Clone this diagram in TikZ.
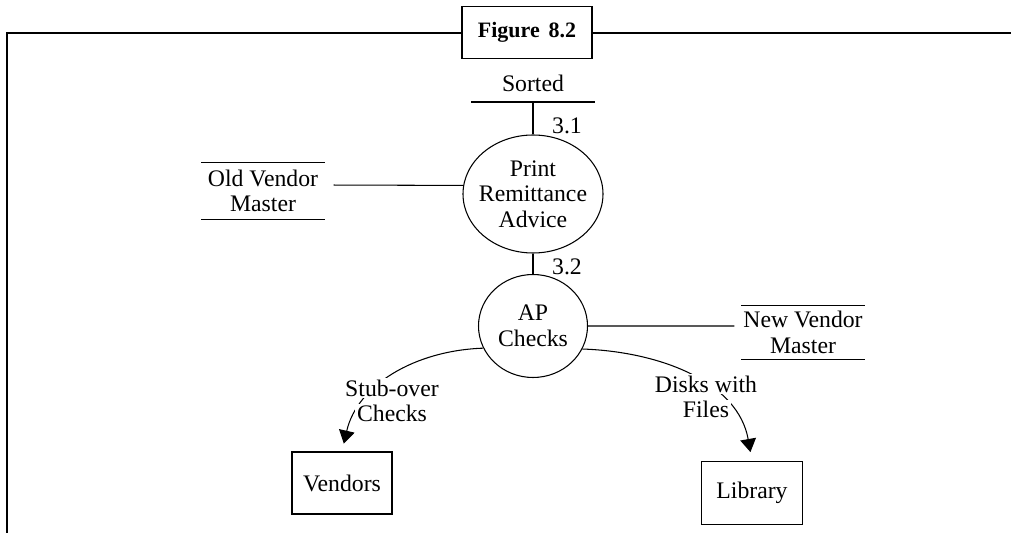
\documentclass[tikz,border=0pt]{standalone}
\usepackage{fontspec}
\setmainfont{Liberation Serif}
\usepackage{tikz}
\usetikzlibrary{arrows.meta, positioning, shapes.geometric}

\newcommand{\wb}[1]{{\setlength{\fboxsep}{1pt}\colorbox{white}{#1}}}

\begin{document}
\begin{tikzpicture}[line width=0.6pt, node distance=2.64cm,
	every node/.style={font=\fontsize{13.5}{14.5}\selectfont, align=center},
	process/.style={draw, ellipse, inner sep=0pt},
	store/.style={minimum width=2.44cm, minimum height=1.12cm, inner sep=0pt,
		append after command={(\tikzlastnode.north west) edge (\tikzlastnode.north east)
			(\tikzlastnode.south west) edge (\tikzlastnode.south east)}},
	entity/.style={draw, minimum width=2cm, minimum height=1.24cm},
	flow/.style={-{Triangle[width=9pt,length=7.5pt]}}]
			\useasboundingbox (0,0) rectangle (20.22,-10.66);
			
			% frame with title
			\draw[line width=1.4pt] (0.14,-10.66) -- (0.14,-0.66) -- (20.22,-0.66);
			\node[draw, line width=1.1pt, fill=white, minimum width=2.6cm, minimum height=1.04cm,
				font=\fontsize{12.5}{13}\selectfont\bfseries] (fig) at (10.54,-0.65) {Figure\hspace{0.4em}8.2};
			
			\node[process, inner xsep=-0.2cm, minimum width=2.8cm, minimum height=2.36cm] (print) at (10.66,-3.88) {Print\\Remittance\\Advice};
			\node[process, minimum width=2.18cm, minimum height=2.06cm] (ap) [below of=print] {AP\\Checks};
			\node[minimum width=2.44cm, minimum height=0.72cm, inner sep=0pt, anchor=south] (sorted) at (10.66,-2.04) {Sorted};
			\node[store] (old) at (5.26,-3.82) {Old Vendor\\Master};
			\node[store, minimum height=1.06cm] (new) at (16.06,-6.65) {New Vendor\\Master};
			\node[entity] (vendors) at (6.84,-9.66) {Vendors};
			\node[entity, minimum width=2.02cm, minimum height=1.26cm] (library) at (15.04,-9.86) {Library};
			\node (n31) at (11.34,-2.52) {3.1};
			\node (n32) at (11.34,-5.34) {3.2};
			
			\draw (sorted.south west) -- (sorted.south east);
			
			\path
			(sorted.south) edge (print.north)
			(print.south) edge (ap.north)
			([yshift=0.12cm]old.east) edge [shorten <=0.18cm] (print.173)
			(ap.east) edge [shorten >=0.14cm] ([yshift=0.13cm]new.west)
			(ap.204) edge [flow, out=182, in=77, shorten >=0.16cm] (vendors.north)
			(ap.335) edge [flow, out=-2, in=100, shorten >=0.18cm] (library.north);
			
			\node (stublbl) at (7.84,-8.02) {\wb{Stub-over}\\\wb{Checks}};
			\node (disklbl) at (14.12,-7.94) {\wb{Disks with}\\\wb{Files}};
		\end{tikzpicture}
\end{document}
